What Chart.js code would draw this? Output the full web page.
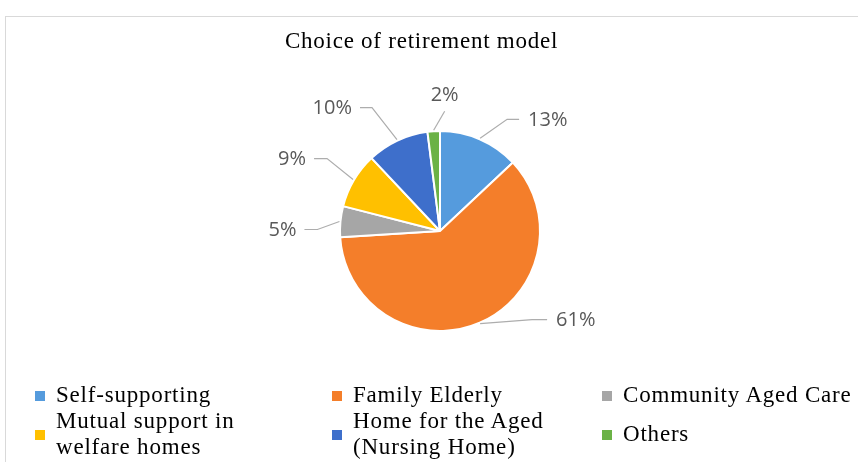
<!DOCTYPE html>
<html>
<head>
<meta charset="utf-8">
<script src="https://cdn.jsdelivr.net/npm/chart.js@4"></script>
<style>
  html, body { margin: 0; padding: 0; background: #fff; }
  #wrap { position: relative; width: 858px; height: 462px; overflow: hidden; }
  #frame { position: absolute; left: 5px; top: 16px; width: 900px; height: 500px;
           border-top: 1px solid #d9d9d9; border-left: 1px solid #d9d9d9; }
  canvas { position: absolute; left: 0; top: 0; }
  #title { position: absolute; left: 0; top: 27px; width: 843px; text-align: center;
           font-family: "Liberation Serif", "Times New Roman", serif; font-size: 23px;
           letter-spacing: 0.75px; line-height: 28px; color: #000; }
  #legend { position: absolute; left: 35px; top: 381px;
            display: grid; grid-template-columns: 297px 270px 250px;
            grid-template-rows: 27px 52px;
            font-family: "Liberation Serif", "Times New Roman", serif; font-size: 23px;
            letter-spacing: 0.8px; line-height: 26px; color: #000; }
  .item { display: flex; align-items: center; }
  .box { width: 10px; height: 10px; margin-right: 11px; flex: none; position: relative; top: 1px; }
</style>
</head>
<body>
<div id="wrap">
  <div id="frame"></div>
  <canvas id="myChart" width="858" height="462"></canvas>
  <div id="title">Choice of retirement model</div>
  <div id="legend"></div>
</div>
<script>
const categories = [
    'Self-supporting',
    'Family Elderly',
    'Community Aged Care',
    ['Mutual support in', 'welfare homes'],
    ['Home for the Aged', '(Nursing Home)'],
    'Others'
];
const shares = [13, 61, 5, 9, 10, 2];   // percent
const sliceColors = ['#559BDD', '#F47E2A', '#A6A6A6', '#FFC000', '#3E6FCB', '#6BB246'];

// where each callout bends (relative to the slice edge) and how long the flat bit is
const calloutOffsets = [
    { dx: 27, dy: -19, h: 12 },
    { dx: 52, dy: -4, h: 15 },
    { dx: -22, dy: 8, h: -13 },
    { dx: -26, dy: -21, h: -13 },
    { dx: -25, dy: -32, h: -12 },
    { dx: 11, dy: -19, h: 0 }
];

const calloutPlugin = {
    id: 'callouts',
    afterDatasetsDraw(chart) {
        const ctx = chart.ctx;
        const meta = chart.getDatasetMeta(0);
        ctx.save();
        ctx.font = '20px "Open Sans", sans-serif';
        ctx.fillStyle = '#595959';
        ctx.strokeStyle = '#ADADAD';
        ctx.lineWidth = 1.2;
        meta.data.forEach(function(arc, i) {
            const p = arc.getProps(['x', 'y', 'startAngle', 'endAngle', 'outerRadius'], true);
            const mid = (p.startAngle + p.endAngle) / 2;
            const ax = p.x + Math.cos(mid) * (p.outerRadius + 1);
            const ay = p.y + Math.sin(mid) * (p.outerRadius + 1);
            const off = calloutOffsets[i];
            const ex = ax + off.dx, ey = ay + off.dy;
            const fx = ex + off.h;
            ctx.beginPath();
            ctx.moveTo(ax, ay);
            ctx.lineTo(ex, ey);
            ctx.lineTo(fx, ey);
            ctx.stroke();
            const txt = shares[i] + '%';
            if (off.h === 0) {
                ctx.textAlign = 'center';
                ctx.textBaseline = 'bottom';
                ctx.fillText(txt, ex, ey - 6);
            } else {
                ctx.textAlign = off.h > 0 ? 'left' : 'right';
                ctx.textBaseline = 'middle';
                ctx.fillText(txt, fx + (off.h > 0 ? 9 : -8), ey + 1);
            }
        });
        ctx.restore();
    }
};

const ctx = document.getElementById('myChart').getContext('2d');
const myChart = new Chart(ctx, {
    type: 'pie',
    data: {
        labels: categories,
        datasets: [{
            data: shares,
            backgroundColor: sliceColors,
            borderColor: '#ffffff',
            borderWidth: 2,
            hoverOffset: 0
        }]
    },
    options: {
        responsive: false,
        animation: false,
        layout: { padding: { top: 130, bottom: 130, left: 222, right: 200 } },
        plugins: {
            legend: { display: false },
            tooltip: { enabled: false }
        }
    },
    plugins: [calloutPlugin]
});

// html legend, built from the chart's own legend items
const legendBox = document.getElementById('legend');
myChart.options.plugins.legend.labels.generateLabels(myChart).forEach(function(item) {
    const div = document.createElement('div');
    div.className = 'item';
    const box = document.createElement('span');
    box.className = 'box';
    box.style.background = item.fillStyle;
    const txt = document.createElement('span');
    const lbl = categories[item.index];
    txt.innerHTML = Array.isArray(lbl) ? lbl.join('<br>') : lbl;
    div.appendChild(box);
    div.appendChild(txt);
    legendBox.appendChild(div);
});
</script>
</body>
</html>
